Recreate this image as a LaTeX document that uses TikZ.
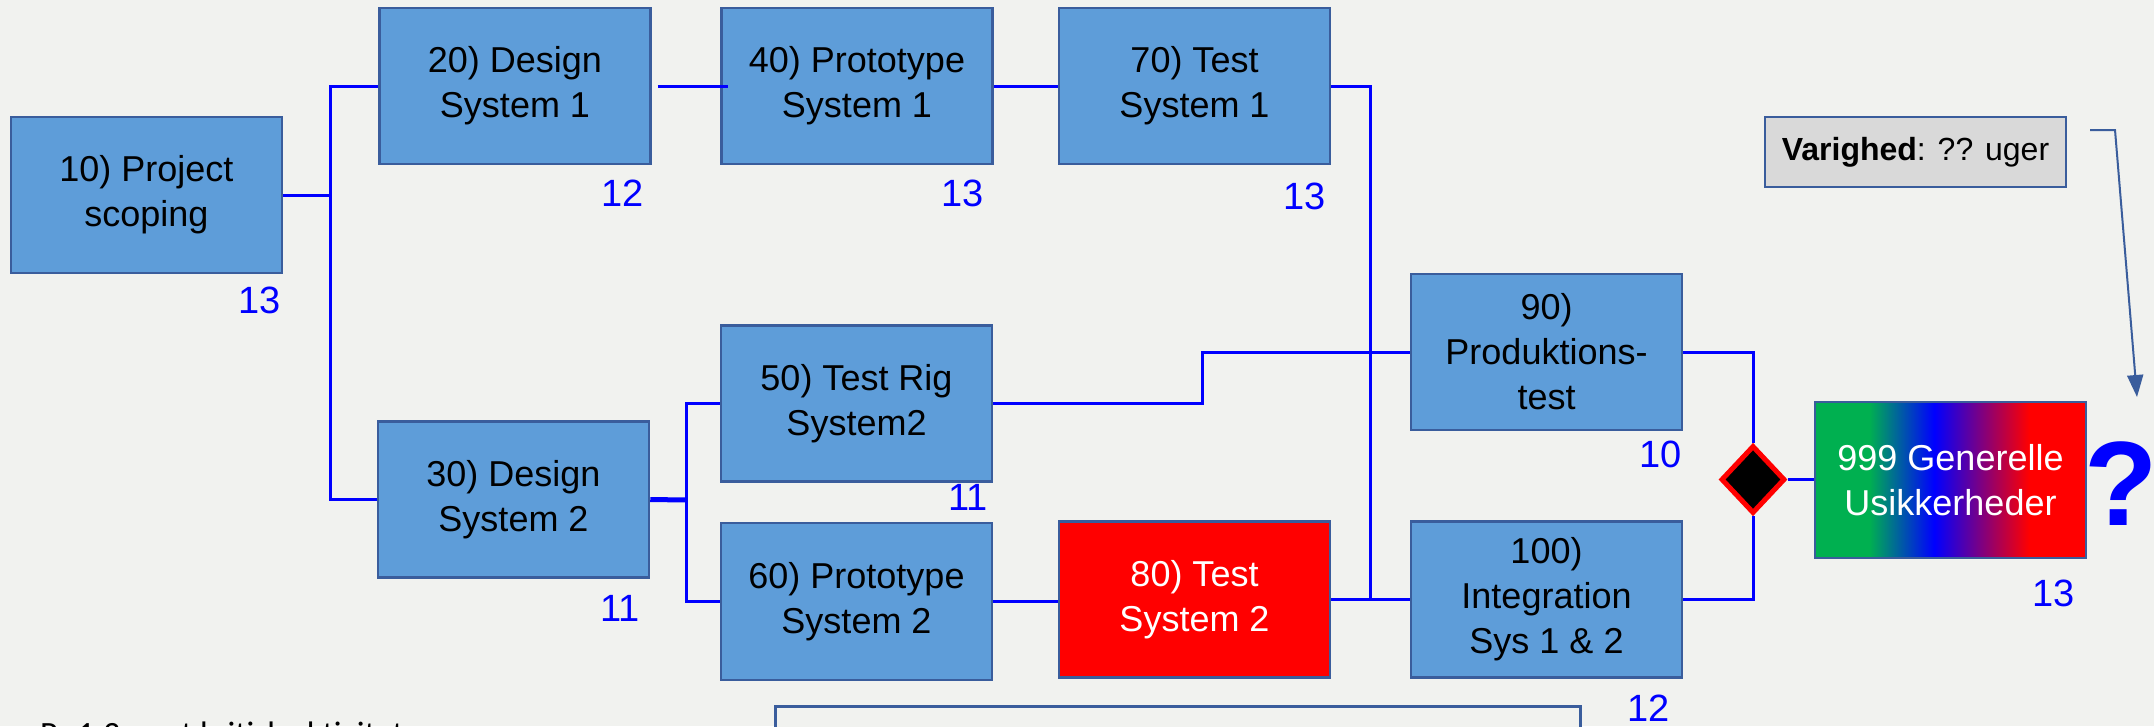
\documentclass[tikz,border=0pt]{standalone}
\usepackage{fontspec}
\setmainfont{Liberation Sans}
\newfontfamily\carl{Carlito}
\usetikzlibrary{shapes.geometric,arrows.meta}
\definecolor{bg}{HTML}{F1F2EF}
\definecolor{boxblue}{HTML}{5E9DD9}
\definecolor{bord}{HTML}{3A5D9C}
\definecolor{grn}{HTML}{00B050}
\definecolor{vgray}{HTML}{D9D9D9}
\pgfdeclarehorizontalshading{gbr}{100bp}{color(0bp)=(grn); color(35bp)=(grn); color(47bp)=(blue); color(64.5bp)=(red); color(100bp)=(red)}
\tikzset{
  task/.style={draw=bord, line width=2.5pt, fill=boxblue, minimum width=271pt, minimum height=156pt,
    inner sep=0pt, align=center, font=\fontsize{36}{45}\selectfont, text=black},
  dur/.style={text=blue, font=\fontsize{38}{40}\selectfont, inner sep=0pt, anchor=east},
  conn/.style={draw=blue, line width=3pt},
  darr/.style={draw=bord, line width=2pt, -{Triangle[width=16pt,length=22pt]}}
}
\begin{document}
\begin{tikzpicture}[x=1pt,y=-1pt]
\useasboundingbox (0,0) rectangle (2154,726);
\clip (0,0) rectangle (2154,726);
\fill[bg] (0,0) rectangle (2154,726);

% task boxes
\node[task] (b10) at (146.5,195) {10) Project\\scoping};
\node[task] (b20) at (515,86) {20) Design\\System 1};
\node[task] (b40) at (857,86) {40) Prototype\\System 1};
\node[task] (b70) at (1194.5,86) {70) Test\\System 1};
\node[task] (b30) at (513.5,499.5) {30) Design\\System 2};
\node[task] (b50) at (856.5,403.5) {50) Test Rig\\System2};
\node[task, minimum height=157pt] (b60) at (856.5,601.5) {60) Prototype\\System 2};
\node[task, fill=red, text=white] (b80) at (1194.5,599.5) {80) Test\\System 2};
\node[task] (b90) at (1546.5,352) {90)\\Produktions-\\test};
\node[task] (b100) at (1546.5,599.5) {100)\\Integration\\Sys 1 \& 2};
\node[task, shade, shading=gbr, text=white] (b999) at (1950.5,480) {999 Generelle\\Usikkerheder};

% milestone diamond
\node[diamond, draw=red, fill=black, line width=5pt, minimum width=64pt, minimum height=68pt, inner sep=0pt] (d) at (1753,479.5) {};

% duration box
\node[draw=bord, line width=2.5pt, fill=vgray, minimum width=301pt, minimum height=70pt, inner sep=0pt,
  font=\fontsize{32}{40}\selectfont] (vb) at (1915.5,152) {\textbf{Varighed}: ?? uger};

% question mark
\node[text=blue, font=\fontsize{120}{120}\selectfont\bfseries, inner sep=0pt] (qm) at (2121,484) {?};

% bottom elements (cut by page edge)
\node[draw=bord, line width=2.5pt, fill=bg, minimum width=805pt, minimum height=80pt, inner sep=0pt, anchor=north west] (nb) at (774,705) {};
\node[anchor=base west, inner sep=0pt, font=\carl\fontsize{34}{40}\selectfont] (note) at (40,745) {Pr 1.3 er et kritisk aktivitet};

% duration labels
\node[dur] (l10) at (281,300) {13};
\node[dur] (l20) at (644,193) {12};
\node[dur] (l40) at (984,193) {13};
\node[dur] (l70) at (1326,196) {13};
\node[dur] (l30) at (640,608) {11};
\node[dur] (l50) at (988,497) {11};
\node[dur] (l90) at (1682,454) {10};
\node[dur] (l100) at (1670,708) {12};
\node[dur] (l999) at (2075,593) {13};

% connectors
\coordinate (j1) at (330,195);
\draw[conn] (b10.east) -- (j1);
\draw[conn] (b20.west) -| (j1) |- (b30.west);
\draw[conn] ([xshift=6pt]b20.east) -- ([xshift=8pt]b40.west);
\draw[conn] (b40.east) -- (b70.west);
\coordinate (j2) at (1370,599.5);
\draw[conn] (b70.east) -| (j2);
\draw[conn] (b80.east) -- (b100.west);
\coordinate (j3) at (686,500);
\draw[conn, line width=5pt] (b30.east) -- (j3);
\draw[conn] (b50.west) -| (j3) |- (b60.west);
\draw[conn] (b60.east) -- (b60.east -| b80.west);
\coordinate (j4) at (1202,403.5);
\draw[conn] (b50.east) -- (j4) |- (b90.west);
\draw[conn] (b90.east) -| (d.north);
\draw[conn] (b100.east) -| (d.south);
\draw[conn] (d.east) -- (d.east -| b999.west);

% duration arrow
\coordinate (a0) at (2090,130);
\coordinate (a1) at (2115,130);
\coordinate (a2) at (2137,397);
\draw[darr] (a0) -- (a1) -- (a2);
\end{tikzpicture}
\end{document}
